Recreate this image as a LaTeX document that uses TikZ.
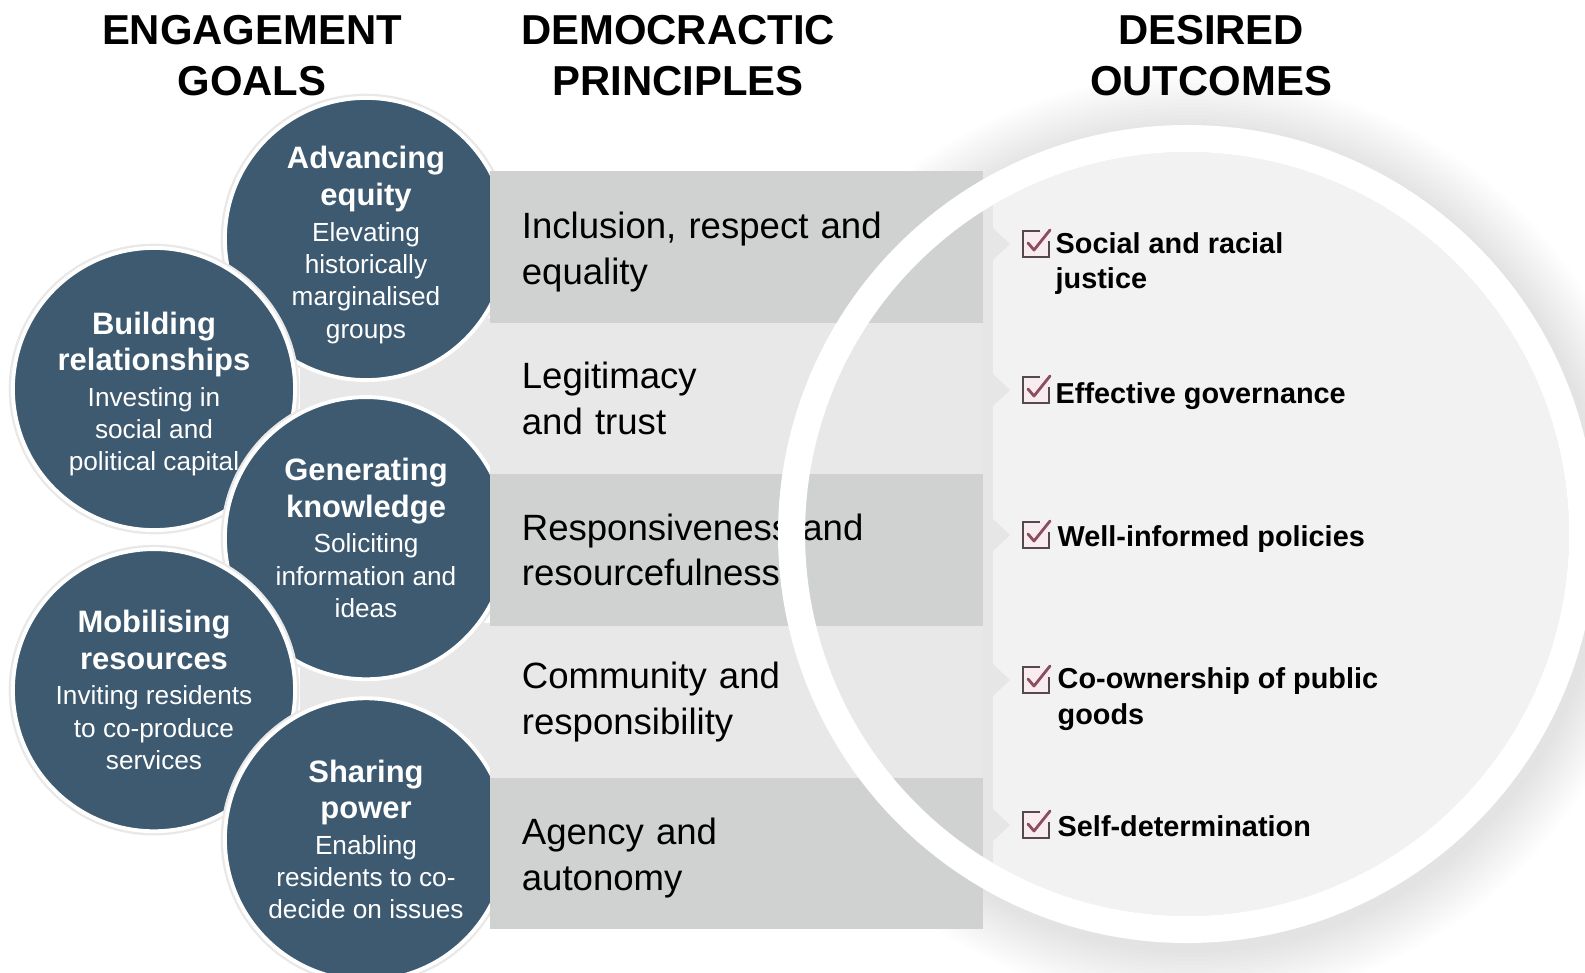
\documentclass[tikz,border=0pt]{standalone}
\usepackage{fontspec}
\setmainfont{Liberation Sans}
\usetikzlibrary{positioning}

\definecolor{goalblue}{RGB}{61,90,113}
\definecolor{banddark}{RGB}{208,209,209}
\definecolor{bandlight}{RGB}{232,232,232}
\definecolor{discgray}{RGB}{242,242,242}
\definecolor{stripgray}{RGB}{230,230,230}
\definecolor{tickline}{RGB}{85,72,78}
\definecolor{tickred}{RGB}{140,78,95}
\definecolor{tickfill}{RGB}{248,236,240}

\newcommand{\goaltitle}[1]{{\bfseries\fontsize{8.8}{10.7}\selectfont #1}}

\tikzset{
  goal/.style={circle, fill=goalblue, draw=white, line width=1.1pt,
    preaction={draw=black!9, line width=2.4pt},
    minimum size=2.82cm, inner sep=0pt, outer sep=0pt, text=white, align=center,
    font=\fontsize{7.45}{9.2}\selectfont},
  band/.style={rectangle, minimum width=4.93cm, minimum height=1.516cm,
    inner sep=0pt, outer sep=0pt, text width=4.29cm, align=left,
    font=\fontsize{10.4}{12.9}\selectfont},
  heading/.style={align=center, inner sep=0pt,
    font=\bfseries\fontsize{11.9}{14.4}\selectfont},
  outcome/.style={anchor=west, inner sep=0pt, align=left,
    font=\bfseries\fontsize{8.2}{10.1}\selectfont},
  tickbox/.pic={
    \fill[tickfill] (-13,-13) rectangle (13,13);
    \draw[tickline, line width=0.8pt] (4,-13) -- (-13,-13) -- (-13,13) -- (13,13) -- (13,-3);
    \draw[tickred, line width=0.8pt, line cap=round, line join=round]
      (-8,-1) -- (-2,6) -- (14,-14);
  }
}

\begin{document}
\lineskiplimit=-10pt
\begin{tikzpicture}[x=0.01cm, y=-0.01cm]
\useasboundingbox (0,0) rectangle (1585,973);

\coordinate (disc) at (1187,534);

% soft shadow round the outcomes disc
\foreach \r in {1,...,14}
  \fill[black, opacity=0.009] ([shift={(4,6)}]disc) circle[radius=409+\r*4];

\fill[discgray] (disc) circle[radius=382];
\begin{scope}
  \clip (disc) circle[radius=382];
  \fill[stripgray] (983,171) rectangle (993,929);
  \foreach \y in {244,390,535,680,825}
    \fill[stripgray] (993,\y-16) -- (1010,\y) -- (993,\y+16) -- cycle;
  \fill[white] (1433,830) rectangle (1600,1000);
  \fill[white] (1400,853) rectangle (1600,1000);
\end{scope}

\fill[bandlight] (300,318) rectangle (490,472);
\fill[bandlight] (300,623) rectangle (490,777);

\node[goal] (equity) at (366,239)
    {\goaltitle{\rule{0pt}{9.8pt}Advancing}\\[1.3pt]\goaltitle{equity}\\[0.8pt]
     Elevating\\historically\\marginalised\\groups};
\node[goal] (relationships) at (154,389)
    {\goaltitle{\rule{0pt}{9.2pt}Building}\\[1.3pt]\goaltitle{relationships}\\[0.8pt]
     Investing in\\social and\\political capital};
\node[goal, below=0.17cm of equity] (knowledge)
    {\goaltitle{Generating}\\[1.3pt]\goaltitle{knowledge}\\[0.8pt]
     Soliciting\\information and\\ideas};
\node[goal, below=0.19cm of relationships] (resources)
    {\goaltitle{Mobilising}\\[1.3pt]\goaltitle{resources}\\[0.8pt]
     Inviting residents\\to co-produce\\services};
\node[goal, below=0.19cm of knowledge] (power)
    {\goaltitle{Sharing}\\[1.3pt]\goaltitle{power}\\[0.8pt]
     Enabling\\residents to co-\\decide on issues};

\node[band, fill=banddark] (inclusion) at (736.5,246.8)
    {\rule{0pt}{10.5pt}Inclusion, respect and\\equality};
\node[band, fill=bandlight, below=0pt of inclusion] (legitimacy)
    {Legitimacy\\and trust};
\node[band, fill=banddark, below=0pt of legitimacy] (responsive)
    {Responsiveness and\\resourcefulness};
\node[band, fill=bandlight, below=0pt of responsive] (community)
    {Community and\\responsibility};
\node[band, fill=banddark, below=0pt of community] (agency)
    {\rule{0pt}{10pt}Agency and\\autonomy};

\draw[white, line width=0.27cm] (disc) circle[radius=395.5];

\foreach \y in {244,390,535,680,825}
  \pic at (1036,\y) {tickbox};

\node[outcome] (justice) at (1055,263.5) {Social and racial\\justice};
\node[outcome] (governance) at (1055,396) {Effective governance};
\node[outcome] (policies) at (1057,539) {Well-informed policies};
\node[outcome] (goods) at (1057,699) {Co-ownership of public\\goods};
\node[outcome] (selfdet) at (1057,826) {Self-determination};

\node[heading] (goals) at (252,55.5) {ENGAGEMENT\\GOALS};
\node[heading] (principles) at (678,55.5) {DEMOCRACTIC\\PRINCIPLES};
\node[heading] (outcomes) at (1211,55.5) {DESIRED\\OUTCOMES};
\end{tikzpicture}
\end{document}
